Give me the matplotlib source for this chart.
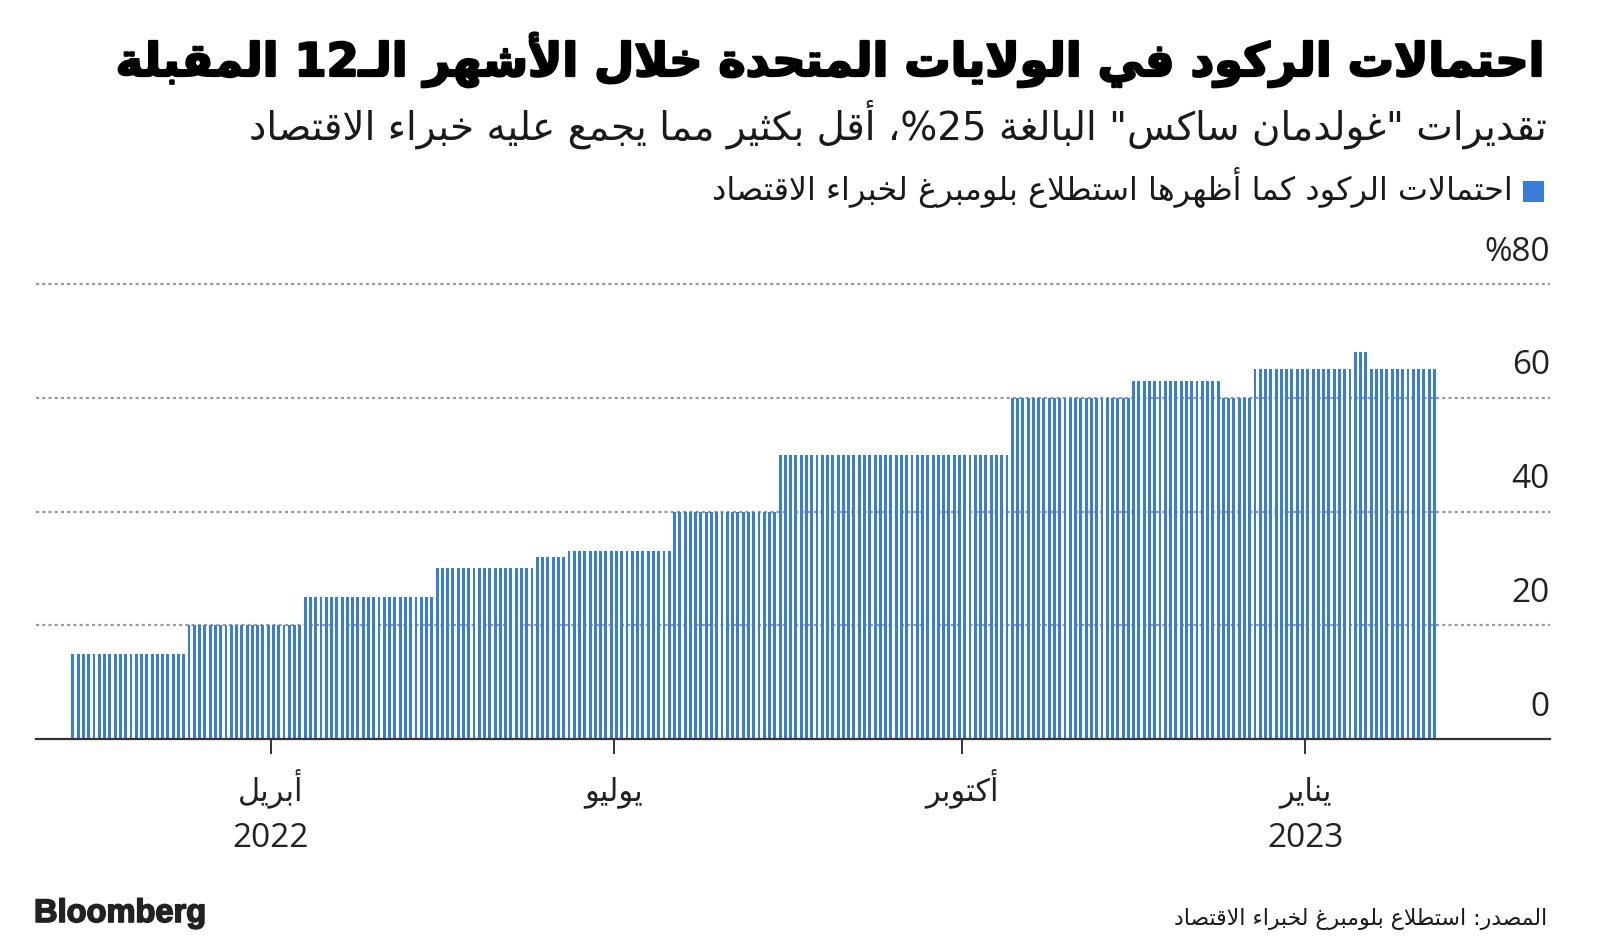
import re
import numpy as np
import pandas as pd
import matplotlib
matplotlib.use('Agg')
import matplotlib.pyplot as plt
from matplotlib.patches import Rectangle
import matplotlib.patheffects as pe

# ---------------- data ----------------
step_start_dates = ['2022-02-08', '2022-03-10', '2022-04-11', '2022-05-16', '2022-06-10',
                    '2022-06-20', '2022-07-18', '2022-08-15', '2022-10-14', '2022-11-16',
                    '2022-12-09', '2022-12-19', '2023-01-13', '2023-01-18']
step_values = [15, 20, 25, 30, 32, 33, 40, 50, 60, 63, 60, 65, 68, 65]
last_date = '2023-02-03'

month_tick_dates = ['2022-04-01', '2022-07-01', '2022-10-01', '2023-01-01']
month_labels = ['أبريل', 'يوليو', 'أكتوبر', 'يناير']
year_labels = ['2022', '', '', '2023']

y_ticks = [0, 20, 40, 60, 80]
y_tick_labels = ['0', '20', '40', '60', '%80']

title_text = 'احتمالات الركود في الولايات المتحدة خلال الأشهر الـ12 المقبلة'
subtitle_text = 'تقديرات "غولدمان ساكس" البالغة 25%، أقل بكثير مما يجمع عليه خبراء الاقتصاد'
legend_text = 'احتمالات الركود كما أظهرها استطلاع بلومبرغ لخبراء الاقتصاد'
source_text = 'المصدر: استطلاع بلومبرغ لخبراء الاقتصاد'
brand_text = 'Bloomberg'

# ---------------- Arabic shaping (presentation forms + visual order) ----------------
_AR = [('\u0621', 0xFE80, 'U'), ('\u0622', 0xFE81, 'R'), ('\u0623', 0xFE83, 'R'),
       ('\u0624', 0xFE85, 'R'), ('\u0625', 0xFE87, 'R'), ('\u0626', 0xFE89, 'D'),
       ('\u0627', 0xFE8D, 'R'), ('\u0628', 0xFE8F, 'D'), ('\u0629', 0xFE93, 'R'),
       ('\u062A', 0xFE95, 'D'), ('\u062B', 0xFE99, 'D'), ('\u062C', 0xFE9D, 'D'),
       ('\u062D', 0xFEA1, 'D'), ('\u062E', 0xFEA5, 'D'), ('\u062F', 0xFEA9, 'R'),
       ('\u0630', 0xFEAB, 'R'), ('\u0631', 0xFEAD, 'R'), ('\u0632', 0xFEAF, 'R'),
       ('\u0633', 0xFEB1, 'D'), ('\u0634', 0xFEB5, 'D'), ('\u0635', 0xFEB9, 'D'),
       ('\u0636', 0xFEBD, 'D'), ('\u0637', 0xFEC1, 'D'), ('\u0638', 0xFEC5, 'D'),
       ('\u0639', 0xFEC9, 'D'), ('\u063A', 0xFECD, 'D'), ('\u0641', 0xFED1, 'D'),
       ('\u0642', 0xFED5, 'D'), ('\u0643', 0xFED9, 'D'), ('\u0644', 0xFEDD, 'D'),
       ('\u0645', 0xFEE1, 'D'), ('\u0646', 0xFEE5, 'D'), ('\u0647', 0xFEE9, 'D'),
       ('\u0648', 0xFEED, 'R'), ('\u0649', 0xFEEF, 'R'), ('\u064A', 0xFEF1, 'D')]
FORMS = {c: b for c, b, t in _AR}
JT = {c: t for c, b, t in _AR}
JT['\u0640'] = 'C'
LAM_ALEF = {'\u0622': 0xFEF5, '\u0623': 0xFEF7, '\u0625': 0xFEF9, '\u0627': 0xFEFB}


def _joins_next(c):
    return JT.get(c) in ('D', 'C')


def _joins_prev(c):
    return JT.get(c) in ('D', 'R', 'C')


def shape(s):
    out = []
    n = len(s)
    i = 0
    while i < n:
        c = s[i]
        t = JT.get(c)
        if t is None or t == 'C':
            out.append(c)
            i += 1
            continue
        prev = s[i - 1] if i > 0 else ''
        jp = _joins_next(prev) and _joins_prev(c)
        if c == '\u0644' and i + 1 < n and s[i + 1] in LAM_ALEF:
            out.append(chr(LAM_ALEF[s[i + 1]] + (1 if jp else 0)))
            i += 2
            continue
        nxt = s[i + 1] if i + 1 < n else ''
        jn = t == 'D' and _joins_prev(nxt)
        base = FORMS[c]
        if t == 'U':
            code = base
        elif jp and jn:
            code = base + 3
        elif jp:
            code = base + 1
        elif jn:
            code = base + 2
        else:
            code = base
        out.append(chr(code))
        i += 1
    shaped = ''.join(out)
    tokens = re.findall(r'[0-9A-Za-z.]+|.', shaped)
    return ''.join(tokens[::-1])


# ---------------- figure ----------------
W, H = 1600, 944
fig = plt.figure(figsize=(W / 100, H / 100), dpi=100)
fig.patch.set_facecolor('white')


def fx(x):
    return x / W


def fy(y):
    return 1 - y / H


ax_left, ax_right, y0_px, y80_px = 36, 1550, 739, 284
ytop = 82
ax_top = y0_px - (y0_px - y80_px) * ytop / 80
ax = fig.add_axes([fx(ax_left), fy(y0_px), (ax_right - ax_left) / W, (y0_px - ax_top) / H])

days = pd.bdate_range(step_start_dates[0], last_date)
starts = pd.to_datetime(step_start_dates)
seg = np.searchsorted(starts.values, days.values, side='right') - 1
vals = np.array(step_values, dtype=float)[seg]
xi = np.arange(len(days))

bar_color = '#3a7dd8'
ax.bar(xi, vals, width=0.55, color=bar_color, linewidth=0, zorder=2)

ax.set_xlim(-7.0, 279.9)
ax.set_ylim(0, ytop)

# grid
for v in y_ticks[1:]:
    ax.axhline(v, color='#9a9a9a', linewidth=1.6, linestyle=(0, (1.4, 1.4)), zorder=1)

for s in ['top', 'right', 'left']:
    ax.spines[s].set_visible(False)
ax.spines['bottom'].set_color('#333333')
ax.spines['bottom'].set_linewidth(1.6)
ax.spines['bottom'].set_zorder(3)

tick_pos = [days.searchsorted(pd.Timestamp(d)) - 0.5 for d in month_tick_dates]
ax.set_xticks(tick_pos)
ax.set_xticklabels([''] * len(tick_pos))
ax.tick_params(axis='x', length=11, width=1.4, color='#333333', direction='out')
ax.set_yticks([])

# y labels above gridlines on the right
for v, lab in zip(y_ticks, y_tick_labels):
    ax.annotate(lab, xy=(1.0, v), xycoords=('axes fraction', 'data'),
                xytext=(0, 23), textcoords='offset points', ha='right', va='center',
                fontsize=24, family=['Open Sans', 'DejaVu Sans'], color='#222222')

# x labels
for p, m, yl in zip(tick_pos, month_labels, year_labels):
    ax.annotate(shape(m), xy=(p, 0), xycoords=('data', 'axes fraction'),
                xytext=(0, -(800 - y0_px) / 1.3889), textcoords='offset points',
                ha='center', va='baseline', fontsize=22, family=['DejaVu Sans'], color='#222222')
    if yl:
        ax.annotate(yl, xy=(p, 0), xycoords=('data', 'axes fraction'),
                    xytext=(0, -(847 - y0_px) / 1.3889), textcoords='offset points',
                    ha='center', va='baseline', fontsize=24, family=['Open Sans', 'DejaVu Sans'],
                    color='#222222')

renderer = fig.canvas.get_renderer()


def fit(t, width_px):
    bb = t.get_window_extent(renderer)
    t.set_fontsize(t.get_fontsize() * width_px / bb.width)


t_title = fig.text(fx(1546), fy(76), shape(title_text), ha='right', va='baseline',
                   fontsize=30, fontweight='bold', family=['DejaVu Sans'], color='#000000')
fit(t_title, 1428)
t_title.set_path_effects([pe.withStroke(linewidth=1.6, foreground='#000000')])

t_sub = fig.text(fx(1547), fy(140), shape(subtitle_text), ha='right', va='baseline',
                 fontsize=22, family=['DejaVu Sans'], color='#1a1a1a')
fit(t_sub, 1298)

fig.patches.append(Rectangle((fx(1523), fy(202)), 21 / W, 21 / H, transform=fig.transFigure,
                             facecolor=bar_color, edgecolor='none'))
t_leg = fig.text(fx(1513), fy(200), shape(legend_text), ha='right', va='baseline',
                 fontsize=18, family=['DejaVu Sans'], color='#1a1a1a')
fit(t_leg, 798)

t_src = fig.text(fx(1547), fy(925), shape(source_text), ha='right', va='baseline',
                 fontsize=15, family=['DejaVu Sans'], color='#1a1a1a')
fit(t_src, 375)

t_brand = fig.text(fx(34), fy(922), brand_text, ha='left', va='baseline',
                   fontsize=22, fontweight='bold', family=['Liberation Sans', 'DejaVu Sans'],
                   color='#222222')
fit(t_brand, 172)
t_brand.set_path_effects([pe.withStroke(linewidth=1.2, foreground='#222222')])

fig.savefig('out.png', dpi=100, facecolor='white')
